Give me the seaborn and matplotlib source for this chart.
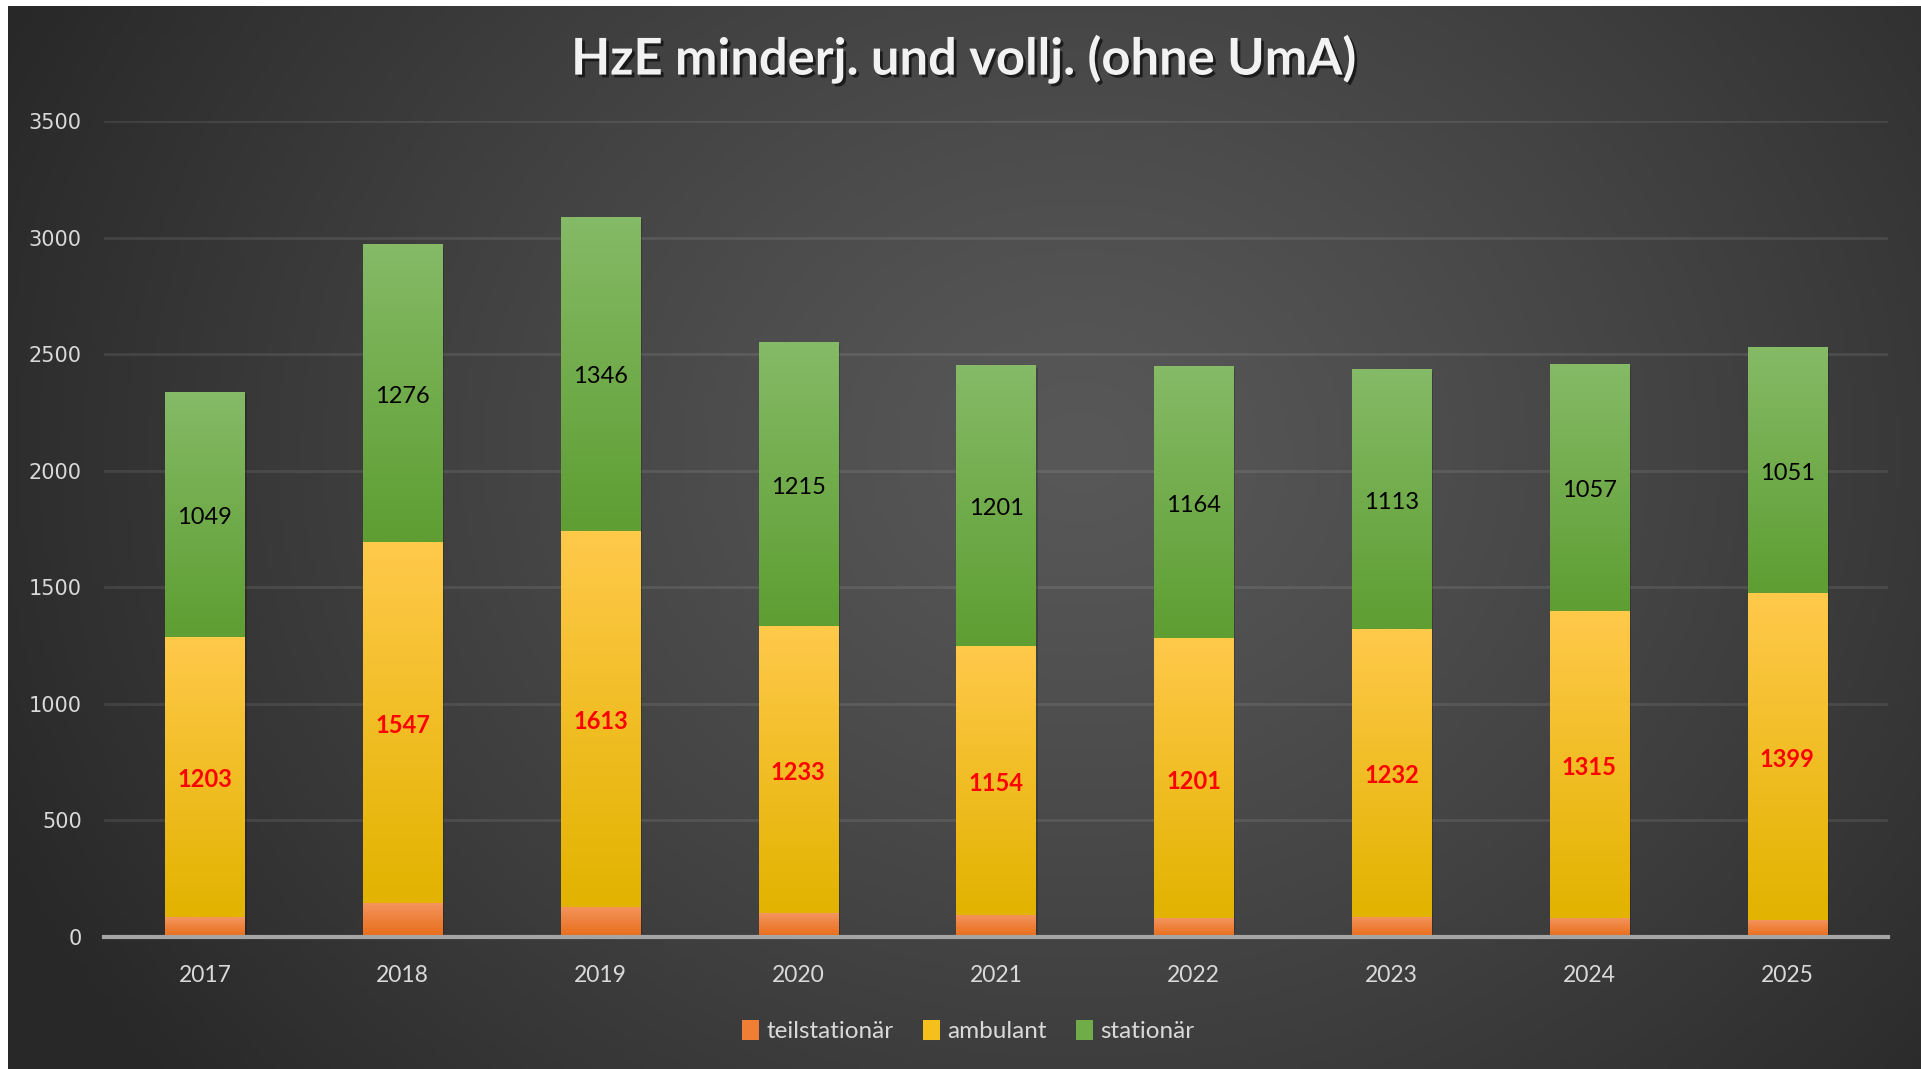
import numpy as np
import pandas as pd
import matplotlib
matplotlib.use("Agg")
import matplotlib.pyplot as plt
import matplotlib.patheffects as pe
from matplotlib.patches import Patch
import seaborn as sns

# Daten
jahre = ["2017", "2018", "2019", "2020", "2021", "2022", "2023", "2024", "2025"]
teilstationaer = [85, 146, 130, 101, 95, 80, 87, 82, 75]
ambulant = [1203, 1547, 1613, 1233, 1154, 1201, 1232, 1315, 1399]
stationaer = [1049, 1276, 1346, 1215, 1201, 1164, 1113, 1057, 1051]
y_ticks = [0, 500, 1000, 1500, 2000, 2500, 3000, 3500]

df = pd.DataFrame({"jahr": jahre, "teil": teilstationaer,
                   "amb": ambulant, "stat": stationaer})
df["cum_teil"] = df["teil"]
df["cum_amb"] = df["teil"] + df["amb"]
df["cum_stat"] = df["cum_amb"] + df["stat"]

# Farben (oben, unten) fuer den Verlauf
farben = {
    "teil": ("#F4955E", "#E86C18"),
    "amb": ("#FFC94A", "#E2B300"),
    "stat": ("#85BA66", "#5E9E32"),
}
mitte = {"teil": "#F07F35", "amb": "#F5BF1C", "stat": "#70AC48"}

sns.set_style("dark")
plt.rcParams["font.family"] = ["Lato", "DejaVu Sans"]

fig = plt.figure(figsize=(19.21, 10.69), dpi=100)
fig.patch.set_facecolor("white")

# Hintergrund mit radialem Verlauf
bg = fig.add_axes([8 / 1921, 0, 1 - 8 / 1921, 1 - 6 / 1069])
bg.set_axis_off()
gx, gy = np.meshgrid(np.linspace(0, 1, 400), np.linspace(0, 1, 240))
r = np.sqrt(((gx - 0.56) / 0.62) ** 2 + ((gy - 0.42) / 0.95) ** 2)
r = np.clip(r, 0, 1)
hell = (88 - (88 - 40) * r ** 1.2) / 255
bg.imshow(np.dstack([hell, hell, hell]), aspect="auto", extent=(0, 1, 0, 1),
          origin="upper")
bg.set_zorder(-10)

ax = fig.add_axes([104 / 1921, 1 - 937 / 1069, 1784 / 1921, (937 - 121) / 1069])
ax.patch.set_alpha(0)

breite = 0.40
schatten = [pe.withSimplePatchShadow(offset=(1.5, -1.5), shadow_rgbFace="black", alpha=0.2)]
# gestapelt: Gesamthoehen zuerst, dann darueber die kleineren
for spalte, seg in [("cum_stat", "stat"), ("cum_amb", "amb"), ("cum_teil", "teil")]:
    sns.barplot(data=df, x="jahr", y=spalte, color=mitte[seg], width=breite,
                saturation=1, ax=ax, zorder=3, linewidth=0)

# Verlauf in jedes Segment legen
grad_n = 64
for seg, unten, oben in [("teil", None, "cum_teil"), ("amb", "cum_teil", "cum_amb"),
                          ("stat", "cum_amb", "cum_stat")]:
    c_top = np.array(matplotlib.colors.to_rgb(farben[seg][0]))
    c_bot = np.array(matplotlib.colors.to_rgb(farben[seg][1]))
    t = np.linspace(0, 1, grad_n)[:, None]
    grad = (c_top * (1 - t) + c_bot * t)[:, None, :]
    for i, patch in enumerate(ax.patches[:len(jahre)]):
        x0 = patch.get_x()
        w = patch.get_width()
        lo = 0 if unten is None else df[unten][i]
        hi = df[oben][i]
        ax.imshow(grad, extent=(x0, x0 + w, lo, hi), aspect="auto",
                  origin="upper", zorder=4, interpolation="bilinear")

for p in ax.patches[:len(jahre)]:
    p.set_path_effects(schatten)

# Datenbeschriftungen
for i in range(len(jahre)):
    y_amb = df["cum_teil"][i] + df["amb"][i] / 2
    y_stat = df["cum_amb"][i] + df["stat"][i] / 2
    ax.text(i, y_amb - 12, str(ambulant[i]), ha="center", va="center", color="#FF0000",
            fontsize=17, fontweight="bold", zorder=6)
    ax.text(i, y_stat - 12, str(stationaer[i]), ha="center", va="center", color="black",
            fontsize=17, zorder=6)

ax.set_xlim(-0.51, 8.51)
ax.set_ylim(0, 3500)
ax.set_yticks(y_ticks)
ax.set_yticklabels([str(v) for v in y_ticks], fontfamily="DejaVu Sans",
                   fontsize=15, color="#D9D9D9")
ax.tick_params(axis="y", length=0, pad=16)
ax.tick_params(axis="x", length=0, pad=20, labelsize=16.5, labelcolor="#D9D9D9")
ax.set_xlabel("")
ax.set_ylabel("")
ax.grid(axis="y", color="#FFFFFF", alpha=0.09, linewidth=2, zorder=0)
ax.grid(axis="x", visible=False)
for s in ["top", "right", "left"]:
    ax.spines[s].set_visible(False)
ax.spines["bottom"].set_color("#A5A5A5")
ax.spines["bottom"].set_linewidth(3)
ax.spines["bottom"].set_zorder(5)

titel = fig.text(0.502, 1 - 59 / 1069, "HzE minderj. und vollj. (ohne UmA)",
                 ha="center", va="center", color="#F2F2F2", fontsize=36.5,
                 fontweight="bold",
                 path_effects=[pe.withSimplePatchShadow(offset=(2, -2),
                                                        shadow_rgbFace="black",
                                                        alpha=0.6)])

handles = [Patch(facecolor=mitte[k], edgecolor="none") for k in ["teil", "amb", "stat"]]
fig.legend(handles, ["teilstationär", "ambulant", "stationär"], loc="center",
           bbox_to_anchor=(0.504, 1 - 1031 / 1069), ncol=3, frameon=False,
           fontsize=17.5, labelcolor="#D9D9D9", handlelength=0.7, handleheight=0.9,
           handletextpad=0.3, columnspacing=1.2)

fig.savefig("out.png", dpi=100)
